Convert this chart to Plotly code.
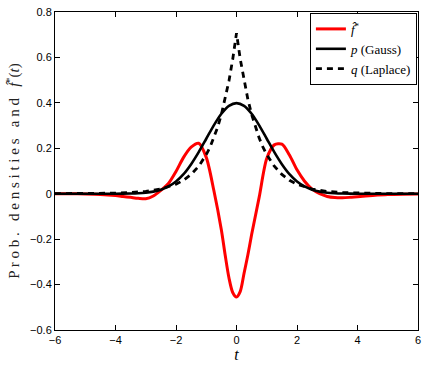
import plotly.graph_objects as go

# sample points (t)
t_f = [-6, -5.5, -5, -4.5, -4, -3.75, -3.5, -3.25, -3, -2.75, -2.5, -2.25, -2, -1.75, -1.5, -1.25,
       -1, -0.75, -0.5, -0.375, -0.25, -0.125, 0, 0.125, 0.25, 0.375, 0.5, 0.75, 1, 1.25, 1.5,
       1.75, 2, 2.25, 2.5, 2.75, 3, 3.25, 3.5, 3.75, 4, 4.5, 5, 5.5, 6]
f_hat = [0, 0, -0.001, -0.003, -0.008, -0.012, -0.016, -0.02, -0.022, -0.01, 0.015, 0.045, 0.098,
         0.16, 0.205, 0.222, 0.16, 0.015, -0.16, -0.27, -0.37, -0.435, -0.455, -0.43, -0.35,
         -0.27, -0.18, -0.015, 0.155, 0.215, 0.218, 0.17, 0.105, 0.055, 0.02, 0.0, -0.012,
         -0.017, -0.018, -0.016, -0.013, -0.008, -0.004, -0.002, -0.001]

t_p = [-6, -5, -4.5, -4, -3.5, -3.25, -3, -2.75, -2.5, -2.25, -2, -1.75, -1.5, -1.25, -1, -0.75,
       -0.5, -0.25, 0, 0.25, 0.5, 0.75, 1, 1.25, 1.5, 1.75, 2, 2.25, 2.5, 2.75, 3, 3.25, 3.5,
       4, 4.5, 5, 6]
p_gauss = [0, 0, 0, 0.0001, 0.0009, 0.002, 0.0044, 0.0091, 0.0175, 0.032, 0.054, 0.086, 0.130,
           0.183, 0.242, 0.301, 0.352, 0.387, 0.399, 0.387, 0.352, 0.301, 0.242, 0.183, 0.130,
           0.086, 0.054, 0.032, 0.0175, 0.0091, 0.0044, 0.002, 0.0009, 0.0001, 0, 0, 0]

t_q = [-6, -5, -4, -3.5, -3, -2.5, -2, -1.75, -1.5, -1.25, -1, -0.875, -0.75, -0.625, -0.5,
       -0.375, -0.25, -0.125, 0, 0.125, 0.25, 0.375, 0.5, 0.625, 0.75, 0.875, 1, 1.25, 1.5,
       1.75, 2, 2.5, 3, 3.5, 4, 5, 6]
q_laplace = [0.0002, 0.0006, 0.0025, 0.005, 0.0102, 0.0206, 0.0418, 0.0595, 0.085, 0.121, 0.172,
             0.205, 0.245, 0.292, 0.349, 0.416, 0.496, 0.592, 0.707, 0.592, 0.496, 0.416, 0.349,
             0.292, 0.245, 0.205, 0.172, 0.121, 0.085, 0.0595, 0.0418, 0.0206, 0.0102, 0.005,
             0.0025, 0.0006, 0.0002]

x_ticks = [-6, -4, -2, 0, 2, 4, 6]
y_ticks = [-0.6, -0.4, -0.2, 0, 0.2, 0.4, 0.6, 0.8]

SERIF = "Liberation Serif, DejaVu Serif, serif"
SANS = "Liberation Sans, Arial, sans-serif"

fig = go.Figure()
fig.add_trace(go.Scatter(x=t_f, y=f_hat, mode="lines", name="<i>f̂</i><sup>*</sup>",
                         line=dict(color="#ff0000", width=3, shape="spline", smoothing=0.8)))
fig.add_trace(go.Scatter(x=t_p, y=p_gauss, mode="lines", name="<i>p</i> (Gauss)",
                         line=dict(color="black", width=2.6, shape="spline", smoothing=0.8)))
fig.add_trace(go.Scatter(x=t_q, y=q_laplace, mode="lines", name="<i>q</i> (Laplace)",
                         line=dict(color="black", width=2.8, dash="6px,5px")))

axis_common = dict(showline=True, linecolor="black", linewidth=1, mirror="ticks",
                   ticks="inside", ticklen=5, tickcolor="black", showgrid=False,
                   zeroline=False, tickfont=dict(family=SANS, size=11, color="black"))

fig.update_layout(
    width=426, height=368,
    margin=dict(l=55, r=5, t=12, b=38),
    paper_bgcolor="white", plot_bgcolor="white",
    xaxis=dict(range=[-6, 6], tickvals=x_ticks,
               title=dict(text="<i>t</i>", font=dict(family=SERIF, size=16, color="black"),
                          standoff=2),
               **axis_common),
    yaxis=dict(range=[-0.6, 0.8], tickvals=y_ticks,
               title=dict(text="P r o b .   d e n s i t i e s   a n d   <i>f̂</i><sup>*</sup>(<i>t</i>)",
                          font=dict(family=SERIF, size=15, color="#222"), standoff=6),
               **axis_common),
    legend=dict(x=0.997, y=0.997, xanchor="right", yanchor="top",
                bordercolor="black", borderwidth=1, bgcolor="white",
                font=dict(family=SERIF, size=13, color="black"),
                itemwidth=30, tracegroupgap=0),
    showlegend=True,
)

fig.write_html("out.html")
